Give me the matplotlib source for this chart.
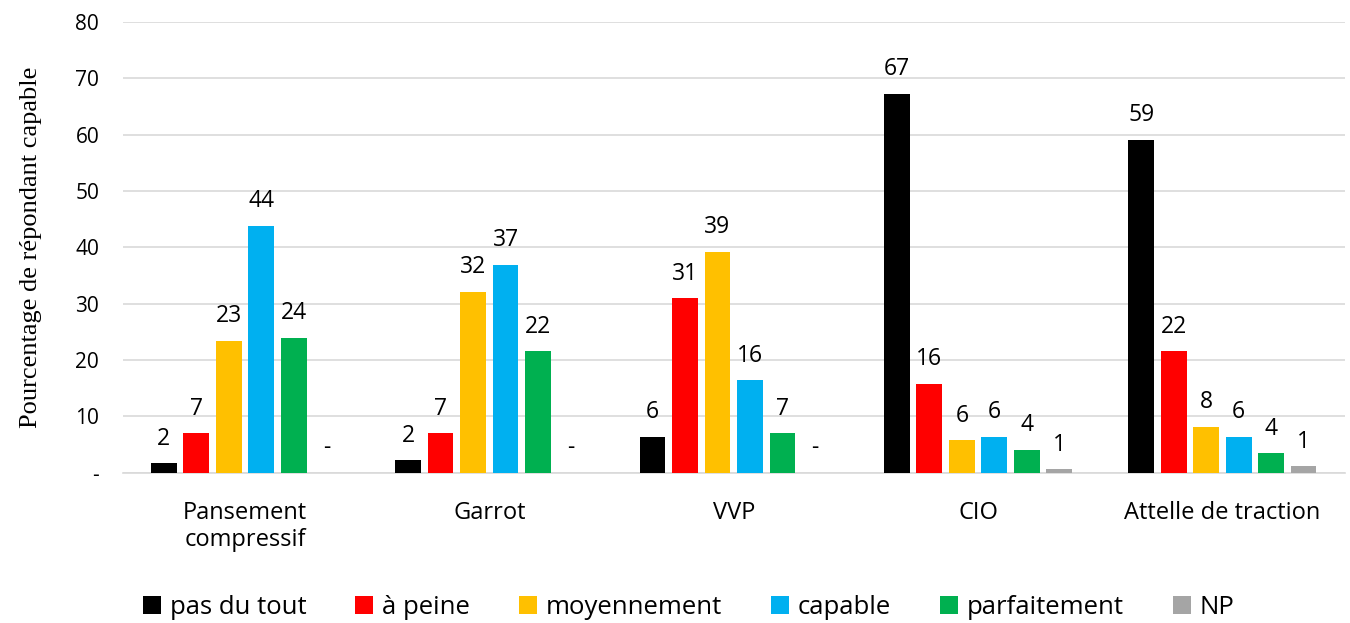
import numpy as np
import matplotlib
matplotlib.use("Agg")
import matplotlib.pyplot as plt
from matplotlib.ticker import FixedLocator, FixedFormatter

categories = ["Pansement\ncompressif", "Garrot", "VVP", "CIO", "Attelle de traction"]
series = ["pas du tout", "à peine", "moyennement", "capable", "parfaitement", "NP"]
colors = ["#000000", "#ff0000", "#ffc000", "#00b0f0", "#00b050", "#a5a5a5"]

pas_du_tout = [1.7, 2.2, 6.4, 67.2, 59.1]
a_peine = [7.0, 7.0, 31.0, 15.8, 21.6]
moyennement = [23.4, 32.1, 39.2, 5.8, 8.2]
capable = [43.8, 36.9, 16.4, 6.4, 6.4]
parfaitement = [24.0, 21.6, 7.0, 4.1, 3.5]
np_vals = [0.0, 0.0, 0.0, 0.6, 1.2]

values = [pas_du_tout, a_peine, moyennement, capable, parfaitement, np_vals]

plt.rcParams['font.family'] = ['Open Sans', 'DejaVu Sans']

fig = plt.figure(figsize=(13.5, 6.23), dpi=100)
ax = fig.add_axes([0.091, 0.241, 0.905, 0.724])

x = np.arange(len(categories))
pitch = 0.133
width = 0.105
for i, (name, vals, c) in enumerate(zip(series, values, colors)):
    pos = x + (i - 2.5) * pitch
    bars = ax.bar(pos, vals, width=width, color=c, label=name, zorder=3)
    for b, v in zip(bars, vals):
        txt = "-" if v == 0 else f"{v:.0f}"
        ax.annotate(txt, (b.get_x() + b.get_width() / 2, v),
                    xytext=(0, 9), textcoords="offset points",
                    ha="center", va="bottom", fontsize=16.5)

ax.set_xlim(-0.5, 4.5)
ax.set_ylim(0, 80)
ax.yaxis.set_major_locator(FixedLocator(range(0, 81, 10)))
ax.yaxis.set_major_formatter(FixedFormatter(["-"] + [str(v) for v in range(10, 81, 10)]))
ax.grid(axis="y", color="#d9d9d9", lw=1.2, zorder=0)
ax.set_xticks(x)
ax.set_xticklabels(categories, fontsize=17, linespacing=1.2)
ax.tick_params(axis="x", length=0, pad=20)
ax.tick_params(axis="y", length=0, pad=17, labelsize=15)
for s in ["top", "right", "left"]:
    ax.spines[s].set_visible(False)
ax.spines["bottom"].set_color("#d9d9d9")
ax.spines["bottom"].set_linewidth(1.2)

ax.set_ylabel("Pourcentage de répondant capable", family=["Liberation Serif", "DejaVu Serif"],
              fontsize=19, labelpad=24)

fig.legend(loc="lower center", bbox_to_anchor=(0.51, -0.032), ncol=6, frameon=False,
           fontsize=18.5, handlelength=0.7, handleheight=0.7, handletextpad=0.35,
           columnspacing=1.9)

fig.savefig("out.png", dpi=100)
